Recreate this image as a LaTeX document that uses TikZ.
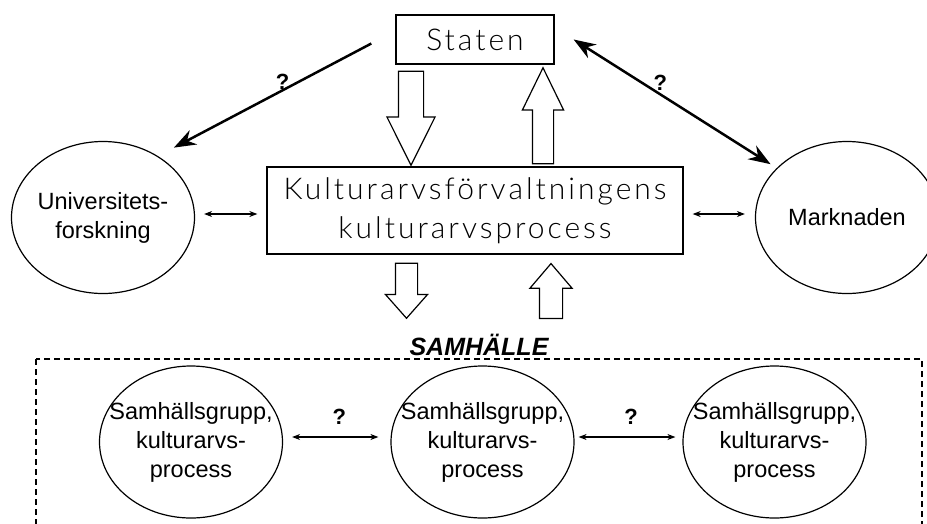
\documentclass[tikz,border=0pt]{standalone}
\usepackage{fontspec}
\setmainfont{Liberation Sans}
\newfontfamily\spacedfont[LetterSpace=10]{Lato Light}
\usetikzlibrary{shapes.geometric,shapes.arrows,arrows.meta}

\tikzset{
  bigtip/.tip={Stealth[length=22pt,width=16pt]},
  smalltip/.tip={Stealth[length=8pt,width=6pt]},
  framebox/.style={draw, line width=1.3pt, inner sep=0pt, align=center,
    font=\spacedfont\fontsize{30}{39}\selectfont},
  oval/.style={ellipse, draw, line width=1.2pt, inner xsep=-30pt, inner ysep=0pt,
    align=center, minimum width=183pt, minimum height=152pt,
    font=\fontsize{23.5}{29}\selectfont},
  qmark/.style={font=\bfseries\fontsize{22}{22}\selectfont},
  bigarrow/.style={line width=2.5pt},
  smallarrow/.style={line width=1.2pt, smalltip-smalltip},
  hollow/.style={single arrow, draw, line width=1.2pt, inner sep=#1,
    single arrow head indent=0pt, fill=white},
  hollow/.default=10pt
}

\begin{document}
\begin{tikzpicture}[x=1pt, y=-1pt]
    \useasboundingbox (0,0) rectangle (927,523);
    \clip (0,0) rectangle (927,523);

    % Nodes
    \node[framebox, minimum width=158pt, minimum height=49pt] (S) at (475,39.5) {Staten};
    \node[framebox, minimum width=416pt, minimum height=87pt] (K) at (475,210.5)
        {Kulturarvsförvaltningens\\kulturarvsprocess};
    \node[oval] (U) at (103,217.5) {Universitets-\\forskning};
    \node[oval] (M) at (847,217.5) {Marknaden};
    \node[font=\bfseries\itshape\fontsize{25}{25}\selectfont] (T) at (479,345) {SAMHÄLLE};
    \node[oval] (G1) at (191,442) {Samhällsgrupp,\\kulturarvs-\\process};
    \node[oval] (G2) at (482.5,442) {Samhällsgrupp,\\kulturarvs-\\process};
    \node[oval] (G3) at (774.5,442) {Samhällsgrupp,\\kulturarvs-\\process};

    % Samhalle frame
    \draw[dashed, line width=1.4pt, dash pattern=on 6pt off 4pt] (36,359) rectangle (922,540);

    % Block arrows
    \node[hollow=12pt, shape border rotate=270, minimum height=94pt,
        single arrow head extend=11.5pt, single arrow tip angle=53, anchor=tail]
        (SK) at ([shift={(-64,6)}]S.south) {};
    \node[hollow=10pt, shape border rotate=90, minimum height=96pt,
        single arrow head extend=10pt, single arrow tip angle=52, anchor=tail]
        (KS) at ([shift={(68,-2)}]K.north) {};
    \node[hollow=10.5pt, shape border rotate=270, minimum height=55pt,
        single arrow head extend=10pt, single arrow tip angle=83, anchor=tail]
        (KT) at ([shift={(-68.5,8)}]K.south) {};
    \node[hollow=11pt, shape border rotate=90, minimum height=55pt,
        single arrow head extend=9.5pt, single arrow tip angle=81, anchor=tip]
        (TK) at ([shift={(76,8)}]K.south) {};

    % Arrows
    \draw[bigarrow, -bigtip] ([shift={(-24,4)}]S.west) -- ([shift={(12,-11)}]U.45)
        node[qmark, pos=.45, yshift=9pt] {?};
    \draw[bigarrow, bigtip-bigtip] ([xshift=19pt]S.east) -- ([shift={(-6,-4)}]M.145)
        node[qmark, pos=.44, yshift=12pt] {?};
    \draw[smallarrow] ([shift={(9,-3.5)}]U.east) -- ([shift={(-9,3.5)}]K.west);
    \draw[smallarrow] ([shift={(9,3.5)}]K.east) -- ([shift={(-10,-3.5)}]M.west);
    \draw[smallarrow] ([shift={(9,-5)}]G1.east) -- ([shift={(-12,-5)}]G2.west)
        node[qmark, midway, xshift=4pt, yshift=20pt] {?};
    \draw[smallarrow] ([shift={(4,-5)}]G2.east) -- ([shift={(-7,-5)}]G3.west)
        node[qmark, midway, xshift=4pt, yshift=20pt] {?};

\end{tikzpicture}
\end{document}
